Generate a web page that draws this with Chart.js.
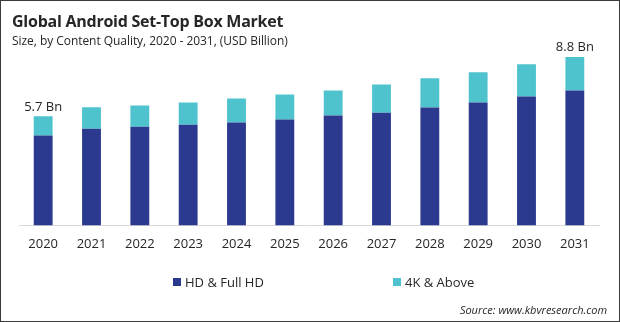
<!DOCTYPE html>
<html>
<head>
<meta charset="utf-8">
<script src="https://cdn.jsdelivr.net/npm/chart.js"></script>
<style>
  html, body { margin: 0; padding: 0; background: #fff; }
  #frame {
    position: relative; width: 620px; height: 322px;
    box-sizing: border-box; border: 1px solid #3a3a3a; overflow: hidden;
    font-family: "Open Sans", sans-serif; color: #262626;
  }
  #chartBox { position: absolute; left: 0; top: 0; width: 618px; height: 320px; }
  .title { position: absolute; left: 11px; top: 9px; font-size: 16px; font-weight: bold; letter-spacing: -0.25px; }
  .subtitle { position: absolute; left: 11px; top: 31px; font-size: 12px; letter-spacing: -0.05px; }
  .legend { position: absolute; top: 272px; font-size: 13px; display: flex; align-items: center; }
  .legend i { display: inline-block; width: 8px; height: 8px; margin-right: 4px; }
  .source { position: absolute; right: 12px; top: 301px; font-size: 11px; font-style: italic; }
</style>
</head>
<body>
<div id="frame">
  <div id="chartBox"><canvas id="marketChart"></canvas></div>
  <div class="title">Global Android Set-Top Box Market</div>
  <div class="subtitle">Size, by Content Quality, 2020 - 2031, (USD Billion)</div>
  <div id="legendHd" class="legend" style="left:172px"></div>
  <div id="legend4k" class="legend" style="left:392px"></div>
  <div class="source">Source: www.kbvresearch.com</div>
</div>
<script>
const years = ["2020", "2021", "2022", "2023", "2024", "2025", "2026", "2027", "2028", "2029", "2030", "2031"];
const hdValues = [4.7, 5.05, 5.16, 5.26, 5.37, 5.53, 5.74, 5.89, 6.16, 6.42, 6.74, 7.05];
const uhdValues = [1.0, 1.12, 1.1, 1.16, 1.26, 1.31, 1.31, 1.47, 1.53, 1.58, 1.68, 1.75];
const totalLabels = ["5.7 Bn", "", "", "", "", "", "", "", "", "", "", "8.8 Bn"];

const navy = "#2B398E";
const teal = "#4EC3CE";

// Beschriftung über der ersten und letzten Säule
const totalLabelPlugin = {
  id: "totalLabels",
  afterDatasetsDraw(chart) {
    const ctx = chart.ctx;
    const topMeta = chart.getDatasetMeta(1);
    ctx.save();
    ctx.font = "13px 'Open Sans'";
    ctx.fillStyle = "#262626";
    ctx.textAlign = "center";
    ctx.textBaseline = "bottom";
    totalLabels.forEach((text, i) => {
      if (!text) return;
      const bar = topMeta.data[i];
      ctx.fillText(text, bar.x, bar.y - 3);
    });
    ctx.restore();
  },
};

const chart = new Chart(document.getElementById("marketChart"), {
  type: "bar",
  data: {
    labels: years,
    datasets: [
      { label: "HD & Full HD", data: hdValues, backgroundColor: navy },
      { label: "4K & Above", data: uhdValues, backgroundColor: teal },
    ],
  },
  options: {
    responsive: true,
    maintainAspectRatio: false,
    animation: false,
    layout: { padding: { left: 18, right: 20, top: 33, bottom: 58 } },
    datasets: { bar: { categoryPercentage: 1, barPercentage: 0.39 } },
    plugins: { legend: { display: false }, tooltip: { enabled: false } },
    scales: {
      x: {
        stacked: true,
        grid: { display: false, drawTicks: false },
        border: { display: true, color: "#D9D9D9", width: 1 },
        ticks: {
          padding: 11,
          color: "#262626",
          font: { family: "Open Sans", size: 13 },
        },
      },
      y: { stacked: true, display: false, min: 0, max: 10 },
    },
  },
  plugins: [totalLabelPlugin],
});

// Legende aus den Datensätzen bauen
[["legendHd", 0], ["legend4k", 1]].forEach(([id, idx]) => {
  const ds = chart.data.datasets[idx];
  const el = document.getElementById(id);
  const box = document.createElement("i");
  box.style.background = ds.backgroundColor;
  el.appendChild(box);
  el.appendChild(document.createTextNode(ds.label));
});
</script>
</body>
</html>
